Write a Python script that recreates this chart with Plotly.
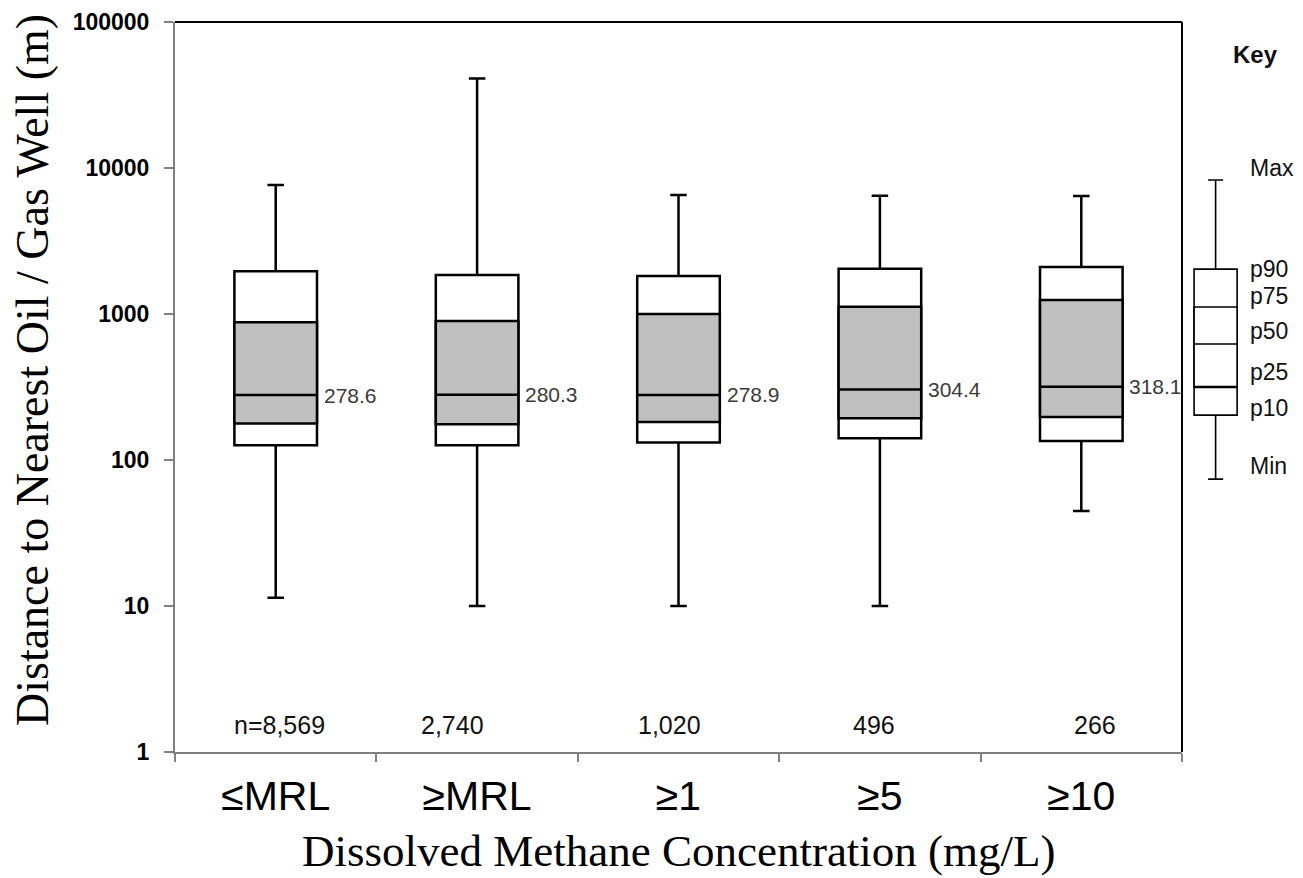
import math
import plotly.graph_objects as go

categories = ["≤MRL", "≥MRL", "≥1", "≥5", "≥10"]
p_max = [7650, 41000, 6530, 6450, 6430]
p90 = [1960, 1850, 1820, 2040, 2100]
p75 = [877, 896, 1000, 1120, 1245]
p50 = [278.6, 280.3, 278.9, 304.4, 318.1]
p25 = [178, 176, 182, 193, 197]
p10 = [126, 126, 132, 141, 135]
p_min = [11.4, 10, 10, 10, 44.8]
median_labels = ["278.6", "280.3", "278.9", "304.4", "318.1"]
n_labels = ["n=8,569", "2,740", "1,020", "496", "266"]
n_shift = [4, -25, -9, -6, 14]

key_values = {"Max": 8280, "p90": 2030, "p75": 1117, "p50": 623, "p25": 316, "p10": 203, "Min": 74}
key_label_shift = {"Max": 12, "p90": 0, "p75": 11, "p50": 13, "p25": 15, "p10": 7, "Min": 13}

# page is offset by the body margin (8px), so the canvas is 8px smaller
W, H = 1295, 870
L, T, B = 167, 14, 126
R = 0
plot_w = W - L - R
main_end = (1182 - 175) / plot_w

fig = go.Figure()

fig.add_trace(go.Box(
    x=categories, q1=p10, median=p50, q3=p90,
    lowerfence=p_min, upperfence=p_max,
    boxpoints=False, width=0.41, whiskerwidth=0.2,
    fillcolor="white", line=dict(color="black", width=2.5),
    hoverinfo="skip", showlegend=False,
))
fig.add_trace(go.Box(
    x=categories, q1=p25, median=p50, q3=p75,
    lowerfence=p25, upperfence=p75,
    boxpoints=False, width=0.41, whiskerwidth=0,
    fillcolor="#c0c0c0", line=dict(color="black", width=2.5),
    hoverinfo="skip", showlegend=False,
))

fig.add_trace(go.Box(
    x=[0], q1=[key_values["p10"]], median=[key_values["p50"]], q3=[key_values["p90"]],
    lowerfence=[key_values["Min"]], upperfence=[key_values["Max"]],
    boxpoints=False, width=0.64, whiskerwidth=0.35,
    fillcolor="white", line=dict(color="black", width=1.6),
    xaxis="x2", yaxis="y", hoverinfo="skip", showlegend=False,
))
fig.add_trace(go.Box(
    x=[0], q1=[key_values["p25"]], median=[key_values["p50"]], q3=[key_values["p75"]],
    lowerfence=[key_values["p25"]], upperfence=[key_values["p75"]],
    boxpoints=False, width=0.64, whiskerwidth=0,
    fillcolor="white", line=dict(color="black", width=1.6),
    xaxis="x2", yaxis="y", hoverinfo="skip", showlegend=False,
))
fig.add_trace(go.Scatter(
    x=[-0.32, 0.32], y=[key_values["p25"], key_values["p25"]],
    mode="lines", line=dict(color="black", width=2.6),
    xaxis="x2", yaxis="y", hoverinfo="skip", showlegend=False,
))

annotations = []
for i, c in enumerate(categories):
    annotations.append(dict(
        x=c, y=math.log10(p50[i]), xref="x", yref="y", text=median_labels[i],
        xanchor="left", yanchor="middle", xshift=46, showarrow=False,
        font=dict(family="Liberation Sans, Arial", size=21, color="#3a3a3a"),
    ))
    annotations.append(dict(
        x=c, y=(752 - 725) / 730, xref="x", yref="paper", text=n_labels[i],
        xanchor="center", yanchor="middle", xshift=n_shift[i], showarrow=False,
        font=dict(family="Liberation Sans, Arial", size=25, color="#111111"),
    ))

for name, v in key_values.items():
    annotations.append(dict(
        x=0.48, y=math.log10(v), xref="x2", yref="y", text=name,
        xanchor="left", yanchor="middle", yshift=key_label_shift[name], showarrow=False,
        font=dict(family="Liberation Sans, Arial", size=23, color="#111111"),
    ))
annotations.append(dict(
    x=(1255 - 175) / plot_w, y=(752 - 54) / 730, xref="paper", yref="paper", text="<b>Key</b>",
    xanchor="center", yanchor="middle", showarrow=False,
    font=dict(family="Liberation Sans, Arial", size=24, color="#111111"),
))
annotations.append(dict(
    x=main_end / 2, y=(752 - 851) / 730, xref="paper", yref="paper",
    text="Dissolved Methane Concentration (mg/L)",
    xanchor="center", yanchor="middle", showarrow=False,
    font=dict(family="Liberation Serif, Times New Roman, serif", size=45, color="black"),
))
annotations.append(dict(
    x=(32 - 175) / plot_w, y=(752 - 370) / 730, xref="paper", yref="paper",
    text="Distance to Nearest Oil / Gas Well (m)", textangle=-90,
    xanchor="center", yanchor="middle", showarrow=False,
    font=dict(family="Liberation Serif, Times New Roman, serif", size=46, color="black"),
))

tick_vals = [1, 10, 100, 1000, 10000, 100000]
tick_text = ["<b>1</b>", "<b>10</b>", "<b>100</b>", "<b>1000</b>", "<b>10000</b>", "<b>100000</b>"]

fig.update_layout(
    width=W, height=H,
    margin=dict(l=L, r=R, t=T, b=B),
    paper_bgcolor="white", plot_bgcolor="white",
    boxmode="overlay",
    showlegend=False,
    xaxis=dict(
        domain=[0, main_end], type="category", categoryorder="array", categoryarray=categories,
        tickson="boundaries", ticks="outside", ticklen=8, tickwidth=2, tickcolor="#808080",
        showline=True, linecolor="#808080", linewidth=2, showgrid=False, zeroline=False,
        tickfont=dict(family="Liberation Sans, Arial", size=41, color="black"),
        ticklabelstandoff=7, range=[-0.5, 4.5],
    ),
    xaxis2=dict(
        domain=[main_end, 1], anchor="y", range=[-0.5, 1.3], visible=False,
        showgrid=False, zeroline=False,
    ),
    yaxis=dict(
        type="log", range=[0, 5], tickvals=tick_vals, ticktext=tick_text,
        ticks="outside", ticklen=9, tickwidth=2, tickcolor="#808080",
        showline=True, linecolor="#808080", linewidth=2, showgrid=False, zeroline=False,
        tickfont=dict(family="Liberation Sans, Arial", size=23, color="black"),
        ticklabelstandoff=10,
    ),
    annotations=annotations,
    shapes=[
        dict(type="line", xref="paper", yref="paper", x0=0, x1=main_end, y0=1, y1=1,
             line=dict(color="black", width=2)),
        dict(type="line", xref="paper", yref="paper", x0=main_end, x1=main_end, y0=0, y1=1,
             line=dict(color="black", width=2)),
    ],
)

fig.write_html("out.html")
